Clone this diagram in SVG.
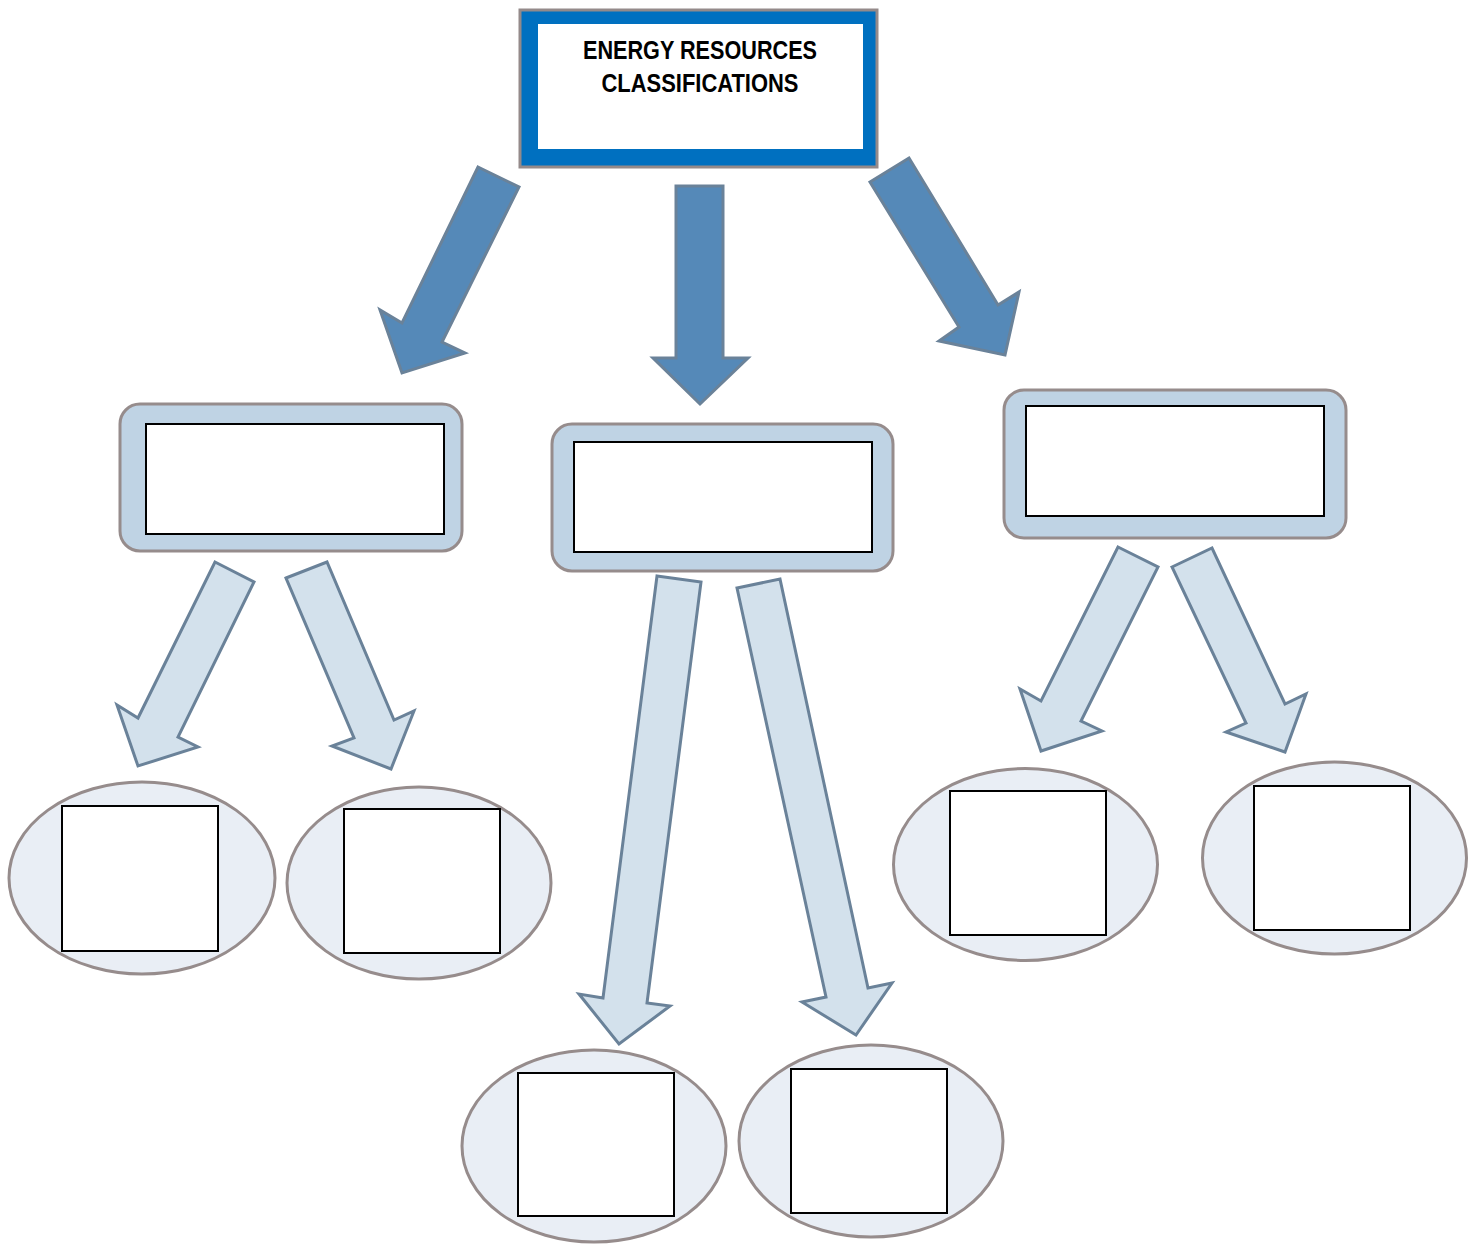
<svg xmlns="http://www.w3.org/2000/svg" width="1480" height="1244" viewBox="0 0 1480 1244">
<style>
.title{font-family:"Liberation Sans",Arial,sans-serif;font-weight:bold;font-size:25px;fill:#000;text-anchor:middle}
.darr{fill:#5589B8;stroke:#6A8299;stroke-width:3;stroke-linejoin:miter}
.larr{fill:#D3E1EC;stroke:#6A8299;stroke-width:3;stroke-linejoin:miter}
.mid{fill:#BFD3E4;stroke:#968C8C;stroke-width:3}
.ell{fill:#E9EEF5;stroke:#968C8C;stroke-width:3}
.box{fill:#fff;stroke:#000;stroke-width:2}
</style>
<rect width="1480" height="1244" fill="#fff"/>
<g id="connectors">
<polygon class="darr" points="478,167 519,187 442,342 465,353 402,373 380,310 402,323"/>
<polygon class="darr" points="676,186 723,186 723,358 748,358 700,404 653,358 676,358"/>
<polygon class="darr" points="870,182 909,158 998,305 1019,292 1005,355 939,341 959,327"/>
<polygon class="larr" points="215,562 254,582 178,737 198,747 138,766 117,705 138,718"/>
<polygon class="larr" points="286,578 327,562 394,720 414,711 391,769 332,746 354,738"/>
<polygon class="larr" points="657,576 701,582 647,1003 670,1006 619,1044 579,994 603,998"/>
<polygon class="larr" points="737,588 780,579 868,988 892,983 856,1035 802,1002 826,997"/>
<polygon class="larr" points="1118,547 1158,567 1081,721 1102,731 1041,751 1020,689 1041,701"/>
<polygon class="larr" points="1172,567 1212,548 1285,704 1306,694 1285,752 1226,732 1246,723"/>
</g>
<g id="root">
<rect x="520" y="10" width="357" height="157" fill="#0070C0" stroke="#948A8A" stroke-width="3"/>
<rect x="538" y="24" width="325" height="125" fill="#fff"/>
<text class="title" x="700" y="59" textLength="234" lengthAdjust="spacingAndGlyphs">ENERGY RESOURCES</text>
<text class="title" x="700" y="92" textLength="197" lengthAdjust="spacingAndGlyphs">CLASSIFICATIONS</text>
</g>
<g id="cat-left">
<rect class="mid" x="120" y="404" width="342" height="147" rx="20"/>
<rect class="box" x="146" y="424" width="298" height="110"/>
</g>
<g id="cat-center">
<rect class="mid" x="552" y="424" width="341" height="147" rx="20"/>
<rect class="box" x="574" y="442" width="298" height="110"/>
</g>
<g id="cat-right">
<rect class="mid" x="1004" y="390" width="342" height="148" rx="20"/>
<rect class="box" x="1026" y="406" width="298" height="110"/>
</g>
<g id="leaf-1">
<ellipse class="ell" cx="142" cy="878" rx="133" ry="96"/>
<rect class="box" x="62" y="806" width="156" height="145"/>
</g>
<g id="leaf-2">
<ellipse class="ell" cx="419" cy="883" rx="132" ry="96"/>
<rect class="box" x="344" y="809" width="156" height="144"/>
</g>
<g id="leaf-3">
<ellipse class="ell" cx="594" cy="1146" rx="132" ry="96"/>
<rect class="box" x="518" y="1073" width="156" height="143"/>
</g>
<g id="leaf-4">
<ellipse class="ell" cx="871" cy="1141" rx="132" ry="96"/>
<rect class="box" x="791" y="1069" width="156" height="144"/>
</g>
<g id="leaf-5">
<ellipse class="ell" cx="1025.5" cy="864.5" rx="132" ry="96"/>
<rect class="box" x="950" y="791" width="156" height="144"/>
</g>
<g id="leaf-6">
<ellipse class="ell" cx="1334.5" cy="858" rx="132" ry="96"/>
<rect class="box" x="1254" y="786" width="156" height="144"/>
</g>
</svg>
